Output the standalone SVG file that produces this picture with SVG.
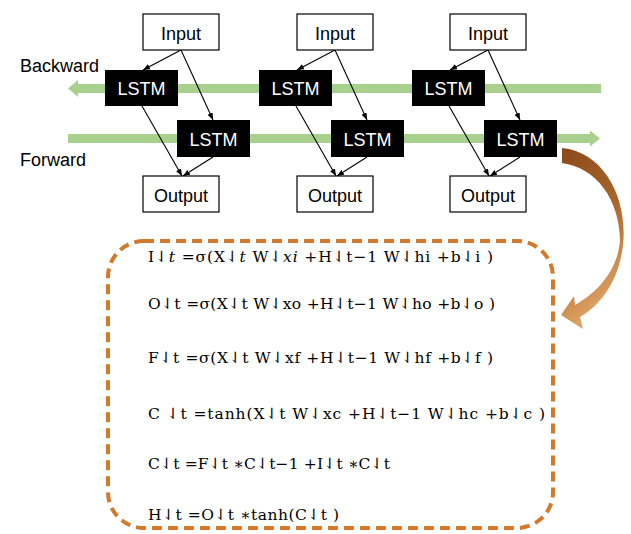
<svg xmlns="http://www.w3.org/2000/svg" width="631" height="534" viewBox="0 0 631 534">
<style>
.box{fill:#fff;stroke:#000;stroke-width:1.2}
.lstm{fill:#000}
.t{font-family:"Liberation Sans",Arial,sans-serif;font-size:18px;fill:#000;text-anchor:middle}
.tw{font-family:"Liberation Sans",Arial,sans-serif;font-size:18px;fill:#fff;text-anchor:middle}
.lbl{font-family:"Liberation Sans",Arial,sans-serif;font-size:18px;fill:#000}
.eq{font-family:"DejaVu Serif","Liberation Serif",serif;font-size:15.5px;fill:#000}
.band{fill:#a9d18e}
.con{stroke:#000;stroke-width:1.1;fill:none;marker-end:url(#ah)}
.i{font-style:italic}
</style>
<defs>
<marker id="ah" viewBox="0 0 10 10" refX="10" refY="5" markerWidth="7" markerHeight="7" markerUnits="userSpaceOnUse" orient="auto">
<path d="M0,1 L10,5 L0,9 Z" fill="#000"/>
</marker>
<linearGradient id="brown" x1="0" y1="0" x2="0.3" y2="1">
<stop offset="0" stop-color="#8a4a1c"/>
<stop offset="0.5" stop-color="#a86428"/>
<stop offset="1" stop-color="#e2a468"/>
</linearGradient>
</defs>

<g id="flows">
<path class="band" d="M78,84 L601,84 L601,93 L78,93 L78,97 L68,88.5 L78,80 Z"/>
<path class="band" d="M68,134 L590,134 L590,130.5 L600,138.5 L590,146.5 L590,143 L68,143 Z"/>
<text class="lbl" x="20" y="72">Backward</text>
<text class="lbl" x="20" y="166">Forward</text>
</g>

<g id="connectors">
<line class="con" x1="181" y1="50" x2="143" y2="70"/>
<line class="con" x1="181" y1="50" x2="213" y2="120"/>
<line class="con" x1="142" y1="106" x2="182" y2="176"/>
<line class="con" x1="213" y1="157" x2="183" y2="176"/>
<line class="con" x1="335" y1="50" x2="297" y2="70"/>
<line class="con" x1="335" y1="50" x2="367" y2="120"/>
<line class="con" x1="296" y1="106" x2="336" y2="176"/>
<line class="con" x1="367" y1="157" x2="337" y2="176"/>
<line class="con" x1="488" y1="50" x2="450" y2="70"/>
<line class="con" x1="488" y1="50" x2="520" y2="120"/>
<line class="con" x1="449" y1="106" x2="489" y2="176"/>
<line class="con" x1="520" y1="157" x2="490" y2="176"/>
<path d="M562,148 C605,152 628,200 623,245 C619,280 602,304 580,317 L583,329 L561,315 L574,296 L575,305 C598,292 618,270 620,240 C619,198 596,168 562,163 Z" fill="url(#brown)"/>
</g>

<g id="input1"><rect class="box" x="143" y="14" width="76" height="36"/><text class="t" x="181" y="40">Input</text></g>
<g id="input2"><rect class="box" x="297" y="14" width="76" height="36"/><text class="t" x="335" y="40">Input</text></g>
<g id="input3"><rect class="box" x="450" y="14" width="76" height="36"/><text class="t" x="488" y="40">Input</text></g>

<g id="lstm-back1"><rect class="lstm" x="105" y="70" width="73" height="36"/><text class="tw" x="141.5" y="95">LSTM</text></g>
<g id="lstm-back2"><rect class="lstm" x="259" y="70" width="73" height="36"/><text class="tw" x="295.5" y="95">LSTM</text></g>
<g id="lstm-back3"><rect class="lstm" x="412" y="70" width="73" height="36"/><text class="tw" x="448.5" y="95">LSTM</text></g>

<g id="lstm-fwd1"><rect class="lstm" x="177" y="120" width="73" height="37"/><text class="tw" x="213.5" y="146">LSTM</text></g>
<g id="lstm-fwd2"><rect class="lstm" x="331" y="120" width="73" height="37"/><text class="tw" x="367.5" y="146">LSTM</text></g>
<g id="lstm-fwd3"><rect class="lstm" x="484" y="120" width="73" height="37"/><text class="tw" x="520.5" y="146">LSTM</text></g>

<g id="output1"><rect class="box" x="143" y="176" width="76" height="36"/><text class="t" x="181" y="202">Output</text></g>
<g id="output2"><rect class="box" x="297" y="176" width="76" height="36"/><text class="t" x="335" y="202">Output</text></g>
<g id="output3"><rect class="box" x="450" y="176" width="76" height="36"/><text class="t" x="488" y="202">Output</text></g>

<g id="equations">
<rect x="108" y="241" width="445" height="287" rx="36" ry="36" fill="none" stroke="#d2792c" stroke-width="4" stroke-dasharray="10 6"/>
<text class="eq" x="148" y="262" textLength="345" lengthAdjust="spacing">I⇃<tspan class="i">t</tspan> =σ(X⇃<tspan class="i">t</tspan> W⇃<tspan class="i">xi</tspan> +H⇃t−1 W⇃hi +b⇃i )</text>
<text class="eq" x="148" y="309" textLength="347" lengthAdjust="spacing">O⇃t =σ(X⇃t W⇃xo +H⇃t−1 W⇃ho +b⇃o )</text>
<text class="eq" x="148" y="363" textLength="345" lengthAdjust="spacing">F⇃t =σ(X⇃t W⇃xf +H⇃t−1 W⇃hf +b⇃f )</text>
<text class="eq" x="148" y="419" textLength="397" lengthAdjust="spacing">C ⇃t =tanh(X⇃t W⇃xc +H⇃t−1 W⇃hc +b⇃c )</text>
<text class="eq" x="148" y="469" textLength="242" lengthAdjust="spacing">C⇃t =F⇃t ∗C⇃t−1 +I⇃t ∗C⇃t</text>
<text class="eq" x="148" y="520" textLength="191" lengthAdjust="spacing">H⇃t =O⇃t ∗tanh(C⇃t )</text>
</g>
</svg>
